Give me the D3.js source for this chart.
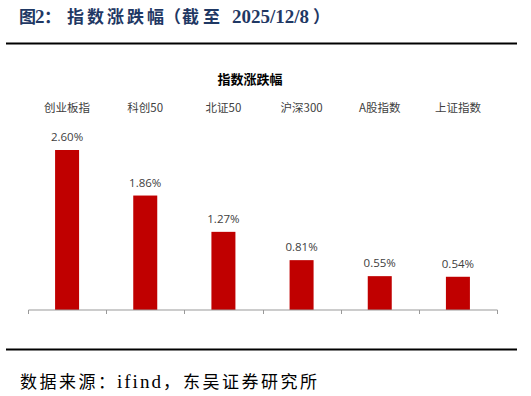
<!DOCTYPE html>
<html><head><meta charset="utf-8">
<script src="https://cdn.jsdelivr.net/npm/d3@7"></script>
<style>body{margin:0;background:#fff;}svg{display:block;}</style>
</head><body>
<svg id="c" width="531" height="396"></svg>
<script>
const categories = ["创业板指","科创50","北证50","沪深300","A股指数","上证指数"];
const values = [2.60, 1.86, 1.27, 0.81, 0.55, 0.54];
const valueLabels = ["2.60%","1.86%","1.27%","0.81%","0.55%","0.54%"];

const svg = d3.select("#c");
const CJK = "'Noto Sans CJK SC',sans-serif";
const SERIF = "'Liberation Serif',serif";

// Figure title pieces
const titleParts = [
  {t:"图", x:19, f:CJK, s:17},
  {t:"2", x:35, f:SERIF, s:19},
  {t:"：", x:44, f:CJK, s:17},
  {t:"指", x:67, f:CJK, s:17},
  {t:"数", x:87, f:CJK, s:17},
  {t:"涨", x:107, f:CJK, s:17},
  {t:"跌", x:127, f:CJK, s:17},
  {t:"幅", x:147, f:CJK, s:17},
  {t:"（", x:164, f:CJK, s:17},
  {t:"截", x:182, f:CJK, s:17},
  {t:"至", x:203, f:CJK, s:17},
  {t:"2025/12/8", x:232, f:SERIF, s:19},
  {t:"）", x:313, f:CJK, s:17}
];
const tt = svg.append("text").attr("y",23).attr("fill","#1F3864").attr("font-weight","bold");
titleParts.forEach(p=>tt.append("tspan").attr("x",p.x).attr("font-family",p.f)
  .attr("font-size",p.s).text(p.t));

svg.append("line").attr("x1",6).attr("x2",517).attr("y1",43.5).attr("y2",43.5)
  .attr("stroke","#000").attr("stroke-width",2);

// Chart title
svg.append("text").attr("x",250).attr("y",84).attr("text-anchor","middle")
  .attr("font-family",CJK).attr("font-weight","bold")
  .attr("font-size",13).attr("fill","#000").text("指数涨跌幅");

const x2 = d3.scaleBand().domain(categories).range([28,497]);
const y = d3.scaleLinear().domain([0,2.6]).range([310,150]);

// category labels on top
svg.selectAll(".cat").data(categories).join("text")
  .attr("x",d=>x2(d)+x2.bandwidth()/2).attr("y",112).attr("text-anchor","middle")
  .attr("font-family",CJK).attr("font-size",11.5).attr("fill","#404040")
  .text(d=>d);

svg.selectAll(".bar").data(values).join("rect")
  .attr("x",(d,i)=>x2(categories[i])+x2.bandwidth()/2-12)
  .attr("width",24)
  .attr("y",d=>y(d)).attr("height",d=>y(0)-y(d))
  .attr("fill","#C00000");

svg.selectAll(".vl").data(values).join("text")
  .attr("x",(d,i)=>x2(categories[i])+x2.bandwidth()/2).attr("y",d=>y(d)-9)
  .attr("text-anchor","middle")
  .attr("font-family","'Open Sans','Noto Sans',sans-serif").attr("font-size",11.5).attr("fill","#404040")
  .text((d,i)=>valueLabels[i]);

// axis
const ax = svg.append("g").attr("transform","translate(0,310)")
  .call(d3.axisBottom(x2).tickSize(0).tickFormat(""));
ax.select(".domain").attr("stroke","#999").attr("d","M28.5,0H497.5");
const bounds = [28].concat(categories.map(c=>x2(c)+x2.bandwidth()));
ax.selectAll(".bt").data(bounds).join("line")
  .attr("x1",d=>Math.round(d)+0.5).attr("x2",d=>Math.round(d)+0.5).attr("y1",0).attr("y2",4)
  .attr("stroke","#999");

// bottom rule and source
svg.append("line").attr("x1",6).attr("x2",517).attr("y1",349.5).attr("y2",349.5)
  .attr("stroke","#000").attr("stroke-width",2);
const srcParts = [
  {t:"数据来源：", x:20, f:CJK, s:17, ls:2.5},
  {t:"ifind", x:117, f:SERIF, s:19, ls:2},
  {t:"，", x:163, f:CJK, s:17, ls:0},
  {t:"东吴证券研究所", x:183, f:CJK, s:17, ls:2.5}
];
const st = svg.append("text").attr("y",388).attr("fill","#000");
srcParts.forEach(p=>st.append("tspan").attr("x",p.x).attr("font-family",p.f)
  .attr("font-size",p.s).attr("letter-spacing",p.ls).text(p.t));
</script>
</body></html>
